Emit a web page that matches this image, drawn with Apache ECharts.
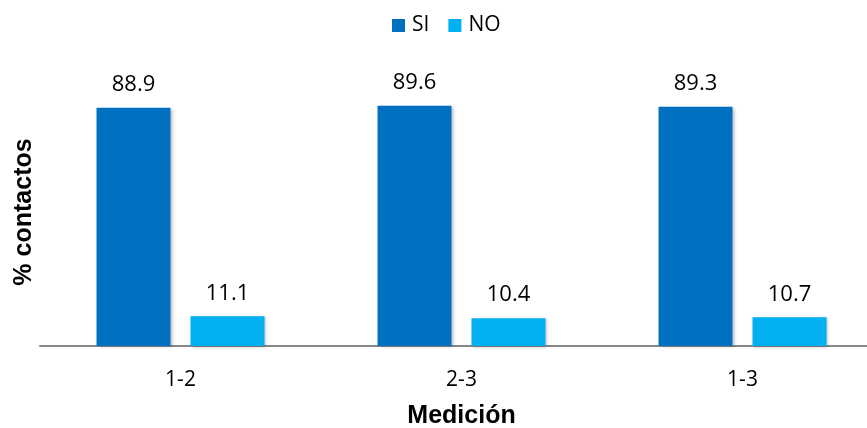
<!DOCTYPE html>
<html>
<head>
<meta charset="utf-8">
<script src="https://cdn.jsdelivr.net/npm/echarts@6/dist/echarts.min.js"></script>
<style>
  html, body { margin: 0; padding: 0; background: #fff; }
  #chart { width: 867px; height: 428px; }
</style>
</head>
<body>
<div id="chart"></div>
<script>
// Mediciones comparadas y porcentaje de contactos por respuesta
const categories = ['1-2', '2-3', '1-3'];
const siValues = [88.9, 89.6, 89.3];
const noValues = [11.1, 10.4, 10.7];

const chart = echarts.init(document.getElementById('chart'));

const barShadow = {
  shadowBlur: 3,
  shadowColor: 'rgba(0,0,0,0.25)',
  shadowOffsetX: 2,
  shadowOffsetY: 1
};

const valueLabel = {
  show: true,
  position: 'top',
  distance: 12,
  fontFamily: 'Open Sans',
  fontSize: 22,
  color: '#000',
  formatter: p => p.value.toFixed(1)
};

chart.setOption({
  animation: false,
  legend: {
    top: 15,
    left: 392,
    padding: 0,
    itemWidth: 13,
    itemHeight: 13,
    itemGap: 19,
    icon: 'rect',
    textStyle: { fontFamily: 'Open Sans', fontSize: 21, color: '#000', padding: [0, 0, 0, 2] },
    data: ['SI', 'NO']
  },
  grid: { left: 40, top: 78, width: 843, bottom: 82, outerBoundsMode: 'none' },
  xAxis: {
    type: 'category',
    data: categories,
    axisLine: { lineStyle: { color: '#878787', width: 2 } },
    axisTick: { show: false },
    axisLabel: { margin: 24, fontFamily: 'Open Sans', fontSize: 21, color: '#000' },
    name: 'Medición',
    nameLocation: 'middle',
    nameGap: 58,
    nameTextStyle: { fontFamily: 'Liberation Sans', fontWeight: 'bold', fontSize: 25, color: '#000' }
  },
  yAxis: {
    type: 'value',
    min: 0,
    max: 100,
    axisLine: { show: false },
    axisTick: { show: false },
    axisLabel: { show: false },
    splitLine: { show: false },
    name: '% contactos',
    nameLocation: 'middle',
    nameRotate: 90,
    nameGap: 3,
    nameTextStyle: { fontFamily: 'Liberation Sans', fontWeight: 'bold', fontSize: 25, color: '#000' }
  },
  series: [
    {
      name: 'SI',
      type: 'bar',
      data: siValues,
      barWidth: 74,
      barGap: '27%',
      itemStyle: Object.assign({ color: '#0070C0' }, barShadow),
      label: valueLabel
    },
    {
      name: 'NO',
      type: 'bar',
      data: noValues,
      barWidth: 74,
      itemStyle: Object.assign({ color: '#00B0F0' }, barShadow),
      label: valueLabel
    }
  ]
});
</script>
</body>
</html>
